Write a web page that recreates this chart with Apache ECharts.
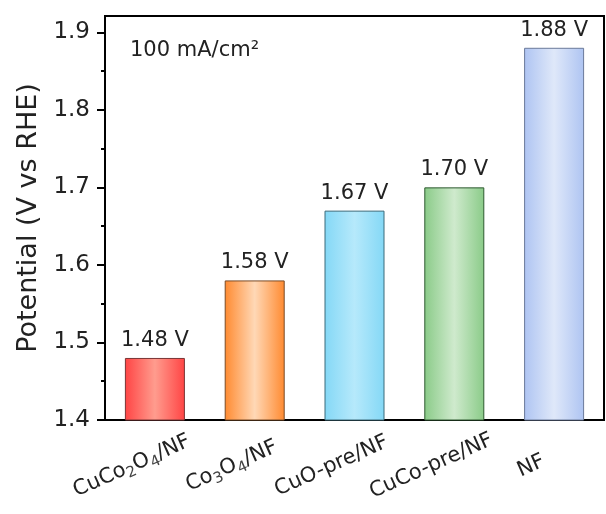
<!DOCTYPE html>
<html><head><meta charset="utf-8">
<script src="https://cdn.jsdelivr.net/npm/echarts@6/dist/echarts.min.js"></script>
<style>html,body{margin:0;padding:0;background:#fff}#c{width:606px;height:514px}</style>
</head><body><div id="c"></div>
<script>
const categories = ['CuCo{s|2}O{s|4}/NF', 'Co{s|3}O{s|4}/NF', 'CuO-pre/NF', 'CuCo-pre/NF', 'NF'];
const values = [1.48, 1.58, 1.67, 1.70, 1.88];
const valueLabels = ['1.48 V', '1.58 V', '1.67 V', '1.70 V', '1.88 V'];
const yTicks = [1.4, 1.5, 1.6, 1.7, 1.8, 1.9];
const edgeColors = ['#ff4444', '#ff8a30', '#84d8f6', '#8acb88', '#aec4f2'];
const midColors = ['#ff9c8e', '#ffd8b6', '#b6e9fb', '#cfeacd', '#dfe8f9'];
const borderColors = ['#7a3535', '#7a4a25', '#3a6a7a', '#2e5a30', '#6a7a9a'];

function grad(i){
  return new echarts.graphic.LinearGradient(0,0,1,0,[
    {offset:0,color:edgeColors[i]},{offset:0.5,color:midColors[i]},{offset:1,color:edgeColors[i]}]);
}
const chart = echarts.init(document.getElementById('c'));
const font = 'DejaVu Sans, Liberation Sans, sans-serif';
chart.setOption({
  animation:false,
  grid:[
    {left:105,right:2,top:16,bottom:94,show:true,borderColor:'#000',borderWidth:2,backgroundColor:'transparent'},
    {left:82,right:25,top:16,bottom:94,show:false}
  ],
  xAxis:[
    {type:'category',gridIndex:0,data:categories,axisLine:{show:false},axisTick:{show:false},axisLabel:{show:false}},
    {type:'category',gridIndex:1,data:categories,axisLine:{show:false},axisTick:{show:false},
      axisLabel:{rotate:24,align:'center',verticalAlign:'middle',color:'#222',fontFamily:font,fontSize:21,margin:46,
        rich:{s:{fontSize:15,fontFamily:font,color:'#444',padding:[12,0,0,0]}}}}
  ],
  yAxis:[
    {type:'value',gridIndex:0,min:1.4,max:1.921,interval:0.1,
    axisLine:{show:true,lineStyle:{color:'#000',width:2}},
    axisTick:{show:true,length:8,lineStyle:{color:'#000',width:2},customValues:yTicks},
    minorTick:{show:true,splitNumber:2,length:4,lineStyle:{color:'#000',width:2}},
    splitLine:{show:false},
    axisLabel:{color:'#222',fontFamily:font,fontSize:23,margin:15,customValues:yTicks,formatter:v=>v.toFixed(1)},
    name:'Potential (V vs RHE)',nameLocation:'middle',nameGap:62,
    nameTextStyle:{color:'#222',fontFamily:font,fontSize:27}},
    {type:'value',gridIndex:1,min:1.4,max:1.921,show:false}
  ],
  series:[{type:'bar',barWidth:60,xAxisIndex:0,yAxisIndex:0,
    data:values.map((v,i)=>({value:v,itemStyle:{color:grad(i),borderColor:borderColors[i],borderWidth:1}})),
    label:{show:true,position:'top',distance:7,color:'#222',fontFamily:font,fontSize:21,
      formatter:p=>valueLabels[p.dataIndex]}}],
  graphic:[{type:'text',left:130,top:40,style:{text:'100 mA/cm²',font:'21px '+font,fill:'#222'}}]
});
</script></body></html>
